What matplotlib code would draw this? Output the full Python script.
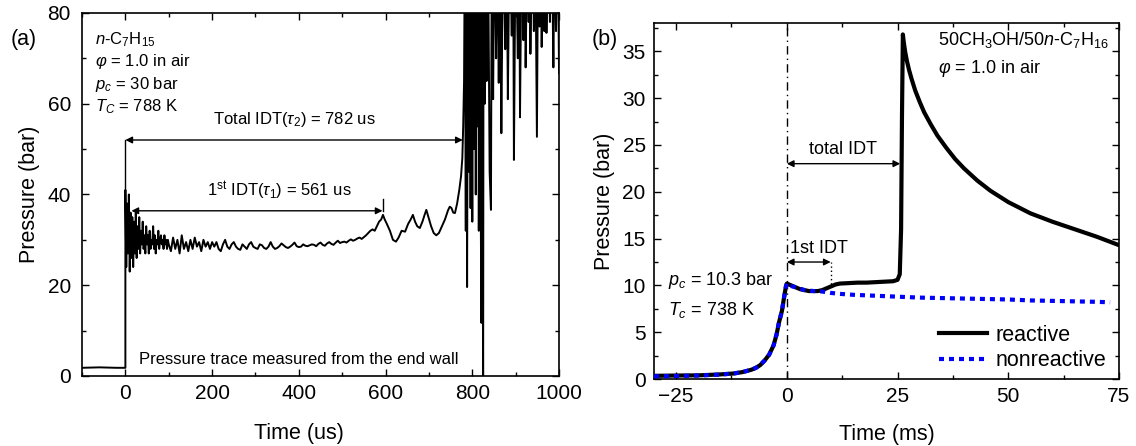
import numpy as np
import matplotlib
matplotlib.use("Agg")
import matplotlib.pyplot as plt
from matplotlib.ticker import MultipleLocator

plt.rcParams['font.family'] = ['Liberation Sans', 'DejaVu Sans']
plt.rcParams['mathtext.fontset'] = 'custom'
plt.rcParams['mathtext.rm'] = 'Liberation Sans'
plt.rcParams['mathtext.it'] = 'Liberation Sans:italic'
plt.rcParams['mathtext.bf'] = 'Liberation Sans:bold'

# ---------------- Panel (a) data: pressure trace (us, bar) ----------------
t_base = [-100, -60, -20, 0]
p_base = [1.8, 1.9, 1.8, 1.8]

t_early = list(range(0, 102, 2))
p_early = [41, 24, 38, 27, 40, 23, 36, 26, 35, 24, 34, 27, 36, 26, 33, 28, 35, 27,
           32, 29, 34, 28, 31, 27, 33, 29, 31, 27, 32, 28, 30, 29, 33, 28, 31, 27,
           30, 29, 32, 28, 30, 31, 29, 30, 28, 31, 29, 30, 28, 30, 29]

t_plateau = list(range(105, 565, 5))
p_plateau = [27.5, 30.5, 28, 30, 27, 31, 28, 29.5, 27.5, 30,
             28, 30.5, 28.5, 29.5, 27.5, 30, 28.5, 29.5, 28, 29.5,
             28.5, 29.5, 28, 27.5, 29, 30, 28.5, 28, 29, 29.5,
             28.5, 28, 27.8, 29, 28.5, 28, 29, 29.5, 28.5, 28.2,
             28, 29, 28.8, 28.2, 28, 28.5, 29.5, 28.5, 28, 28.2,
             28.6, 29.2, 28.8, 28.4, 28.2, 28.5, 28.9, 29.4, 28.6, 28.4,
             28.5, 29, 28.7, 28.6, 28.8, 29, 28.9, 28.6, 29.1, 29.4,
             28.9, 28.7, 29.2, 29.5, 29.1, 28.9, 29.4, 29.8, 29.3, 29.5,
             29.6, 29.4, 29.8, 30.1, 29.8, 30, 30.3, 30.5, 30.2, 30.6,
             31, 31.5]

t_rise = [565, 570, 575, 580, 585, 590, 594, 598, 603, 610, 617, 624, 630, 637,
          645, 652, 658, 663, 668, 673, 679, 685, 690, 694, 699, 705, 711, 717,
          723, 730, 737, 744, 748, 752, 756, 760, 765, 770, 774, 777, 779, 781]
p_rise = [32, 32.3, 32, 33, 34, 34.5, 35.5, 34.5, 33.5, 32, 30, 29.6, 30.5, 32,
          31.8, 33.5, 34.5, 35.5, 34, 33, 32.6, 34, 35.5, 36.6, 35, 33, 31.5, 31,
          31.5, 33, 34.5, 36.5, 37.3, 37, 36, 35.9, 38, 41, 44, 48, 55, 65]

t_noise = [783, 785, 786, 788, 790, 792, 794, 796, 798, 800, 802, 804, 806, 808,
           810, 812, 814, 815, 817, 819, 821, 822, 824, 825, 826, 829, 831, 833,
           836, 840, 843, 845, 848, 851, 855, 858, 861, 864, 867, 871, 876, 879,
           882, 886, 891, 894, 896, 900, 905, 908, 910, 914, 918, 921, 923, 927,
           930, 932, 934, 938, 942, 945, 949, 952, 955, 958, 960, 963, 966, 969,
           971, 975, 979, 983, 987, 990, 993, 997, 1000]
p_noise = [100, 32, 100, 19.6, 100, 45, 100, 37, 100, 34, 100, 50, 100, 40,
           100, 55, 100, 32, 100, 45, 11.7, 100, 30, -3, 100, 60, 100, 65,
           100, 45, 36.6, 100, 61, 100, 70, 100, 64.6, 100, 53.5, 100, 72, 100,
           61, 100, 75, 100, 47.6, 100, 70, 100, 57, 100, 74, 100, 68, 100,
           78, 100, 71, 100, 76, 100, 52.7, 100, 77, 100, 72.5, 100, 76, 100,
           75.6, 100, 78, 100, 68, 100, 76, 100, 66.8]

# ---------------- Panel (b) data (ms, bar) ----------------
t_react = [-30, -25, -20, -15, -12, -10, -8, -7, -6, -5, -4, -3, -2.3, -1.8,
           -1.1, -0.6, -0.2, 0, 0.5, 1, 2, 3, 4, 5, 6, 7, 8, 9, 10, 11, 12, 14,
           16, 18, 20, 22, 24, 25, 25.5, 25.8, 26.0, 26.2, 26.4, 26.7, 27.1,
           27.6, 28.2, 29, 30, 31, 32.5, 34, 36, 38, 40, 43, 46, 50, 55, 60, 65,
           70, 75]
p_react = [0.35, 0.38, 0.4, 0.5, 0.6, 0.75, 1.0, 1.2, 1.5, 2.0, 2.6, 3.6, 4.8,
           6.0, 7.3, 8.8, 9.9, 10.2, 10.1, 10.0, 9.8, 9.6, 9.5, 9.4, 9.4, 9.4,
           9.5, 9.7, 9.9, 10.1, 10.2, 10.25, 10.3, 10.3, 10.35, 10.4, 10.45,
           10.6, 11.2, 16, 28, 36.8, 36.0, 35.0, 34.0, 33.0, 32.0, 30.8, 29.6,
           28.5, 27.2, 26.0, 24.7, 23.5, 22.5, 21.2, 20.1, 18.9, 17.7, 16.8,
           16.0, 15.2, 14.3]

t_nonreact = [-30, -25, -20, -15, -12, -10, -8, -7, -6, -5, -4, -3, -2.3, -1.8,
              -1.1, -0.6, -0.2, 0, 0.5, 2, 4, 6, 8, 10, 12, 15, 20, 25, 30, 35,
              40, 45, 50, 55, 60, 65, 70, 73]
p_nonreact = [0.3, 0.33, 0.38, 0.48, 0.6, 0.75, 1.0, 1.2, 1.5, 2.0, 2.6, 3.6,
              4.8, 6.0, 7.3, 8.8, 9.9, 10.2, 10.0, 9.8, 9.5, 9.4, 9.35, 9.2,
              9.1, 9.0, 8.9, 8.8, 8.7, 8.65, 8.6, 8.55, 8.5, 8.4, 8.35, 8.3,
              8.25, 8.2]

fig = plt.figure(figsize=(11.36, 4.46), dpi=100)

TICK = 15
LAB = 15.5

def style(ax, ypad):
    ax.tick_params(which='both', direction='in', top=True, right=True,
                   labelsize=TICK, width=1)
    ax.tick_params(which='major', length=5)
    ax.tick_params(which='minor', length=3)
    ax.tick_params(axis='x', which='both', pad=6)
    ax.tick_params(axis='y', which='both', pad=ypad)
    for s in ax.spines.values():
        s.set_linewidth(1.2)

# ---------------- Panel (a) ----------------
ax1 = fig.add_axes([0.0722, 0.157, 0.4199, 0.814])
t_all = t_base + t_early + t_plateau + t_rise + t_noise
p_all = p_base + p_early + p_plateau + p_rise + p_noise
ax1.plot(t_all, p_all, color='black', lw=1.4)
ax1.set_xlim(-100, 1000)
ax1.set_ylim(0, 80)
ax1.xaxis.set_major_locator(MultipleLocator(200))
ax1.xaxis.set_minor_locator(MultipleLocator(100))
ax1.yaxis.set_major_locator(MultipleLocator(20))
ax1.yaxis.set_minor_locator(MultipleLocator(10))
style(ax1, 8)
ax1.set_xlabel('Time (us)', fontsize=LAB)
ax1.set_ylabel('Pressure (bar)', fontsize=LAB)
ax1.xaxis.set_label_coords(0.455, -0.13)
ax1.yaxis.set_label_coords(-0.088, 0.5)

ax1.plot([0, 0], [41, 52], color='black', lw=1)
ax1.annotate('', xy=(0, 52), xytext=(778, 52),
             arrowprops=dict(arrowstyle='<|-|>', color='black', lw=1,
                             mutation_scale=10, shrinkA=0, shrinkB=0))
ax1.text(390, 54.5, r'Total IDT($\tau_2$) = 782 us', ha='center', va='bottom', fontsize=12)
ax1.plot([593, 593], [36.4, 39], color='black', lw=1)
ax1.annotate('', xy=(14, 36.4), xytext=(593, 36.4),
             arrowprops=dict(arrowstyle='<|-|>', color='black', lw=1,
                             mutation_scale=10, shrinkA=0, shrinkB=0))
ax1.text(356, 38.3, r'1$^{\rm st}$ IDT($\tau_1$) = 561 us', ha='center', va='bottom', fontsize=12)

for txt, yy in [(r'$n$-C$_7$H$_{15}$', 0.926), (r'$\varphi$ = 1.0 in air', 0.865),
                (r'$p_c$ = 30 bar', 0.804), (r'$T_C$ = 788 K', 0.741)]:
    ax1.text(0.027, yy, txt, transform=ax1.transAxes, fontsize=12, va='center', ha='left')
ax1.text(0.455, 0.045, 'Pressure trace measured from the end wall', transform=ax1.transAxes,
         fontsize=12, ha='center', va='center')

# ---------------- Panel (b) ----------------
ax2 = fig.add_axes([0.5757, 0.150, 0.4093, 0.798])
ax2.plot(t_react, p_react, color='black', lw=3, label='reactive', zorder=3)
ax2.plot(t_nonreact, p_nonreact, color='#0000ff', lw=3, linestyle=(0, (1.2, 1.2)),
         label='nonreactive', zorder=4)
ax2.axvline(0, color='black', lw=1, linestyle=(0, (6, 3, 1, 3)), zorder=2)
ax2.set_xlim(-30, 75)
ax2.set_ylim(0, 38)
ax2.xaxis.set_major_locator(MultipleLocator(25))
ax2.xaxis.set_minor_locator(MultipleLocator(12.5))
ax2.yaxis.set_major_locator(MultipleLocator(5))
ax2.yaxis.set_minor_locator(MultipleLocator(2.5))
style(ax2, 6)
ax2.set_xlabel('Time (ms)', fontsize=LAB)
ax2.set_ylabel('Pressure (bar)', fontsize=LAB)
ax2.xaxis.set_label_coords(0.5, -0.125)
ax2.yaxis.set_label_coords(-0.084, 0.5)

ax2.annotate('', xy=(0, 23), xytext=(25.6, 23),
             arrowprops=dict(arrowstyle='<|-|>', color='black', lw=1,
                             mutation_scale=10, shrinkA=0, shrinkB=0))
ax2.text(12.7, 23.6, 'total IDT', ha='center', va='bottom', fontsize=13)
ax2.annotate('', xy=(0, 12.5), xytext=(9.9, 12.5),
             arrowprops=dict(arrowstyle='<|-|>', color='black', lw=1,
                             mutation_scale=10, shrinkA=0, shrinkB=0))
ax2.plot([9.9, 9.9], [10.2, 12.5], color='black', lw=1, linestyle=(0, (1, 2)))
ax2.text(7.3, 13.0, '1st IDT', ha='center', va='bottom', fontsize=13)

ax2.text(0.61, 0.952, r'50CH$_3$OH/50$n$-C$_7$H$_{16}$', transform=ax2.transAxes,
         fontsize=13, va='center', ha='left')
ax2.text(0.61, 0.874, r'$\varphi$ = 1.0 in air', transform=ax2.transAxes,
         fontsize=13, va='center', ha='left')
ax2.text(-26.9, 10.5, r'$p_c$ = 10.3 bar', fontsize=13, va='center', ha='left')
ax2.text(-26.9, 7.4, r'$T_c$ = 738 K', fontsize=13, va='center', ha='left')

ax2.legend(loc='lower right', frameon=False, fontsize=15.5, handlelength=2.2,
           handletextpad=0.4, borderaxespad=0.2, labelspacing=0.2,
           bbox_to_anchor=(1.0, -0.014))

fig.text(0.009, 1 - 40 / 446, '(a)', fontsize=15.5, va='center', ha='left')
fig.text(0.521, 1 - 40 / 446, '(b)', fontsize=15.5, va='center', ha='left')

fig.savefig('out.png', dpi=100)
